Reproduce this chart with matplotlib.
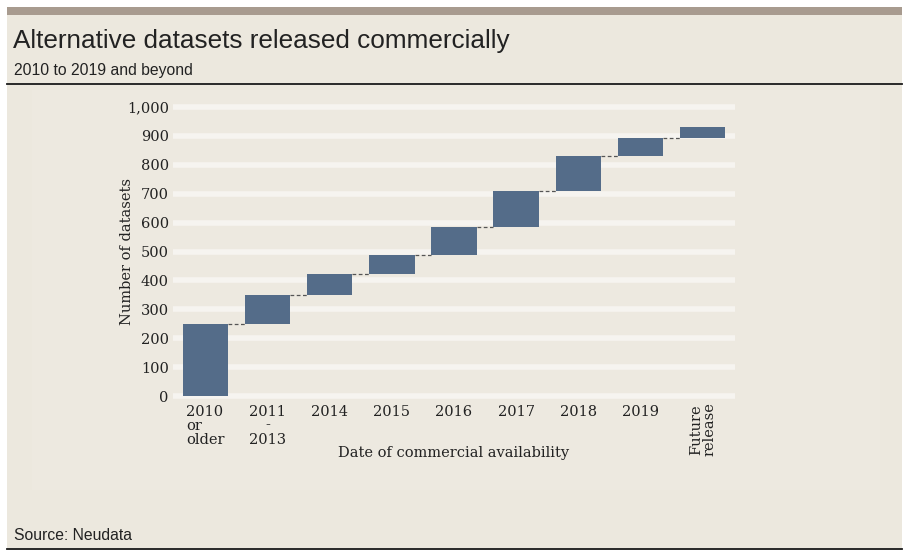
import matplotlib
matplotlib.use("Agg")
import matplotlib.pyplot as plt
from matplotlib.patches import Rectangle
from matplotlib.lines import Line2D

# data (cumulative waterfall)
categories = ["2010\nor\nolder", "2011\n-\n2013", "2014", "2015", "2016",
              "2017", "2018", "2019", "Future\nrelease"]
added = [250, 100, 72, 65, 97, 125, 121, 63, 37]

BG = "#ECE8DE"
BAR = "#546C89"
GRID = "#F6F4F0"
SANS = "Liberation Sans"
SERIF = "DejaVu Serif"

fig = plt.figure(figsize=(9.07, 5.56), dpi=100)
fig.patch.set_facecolor("white")

W, H = 907, 556
def fx(px):
    return px / W
def fy(py):
    return 1 - py / H

# beige card + top band + rules
fig.patches.append(Rectangle((fx(7), fy(550)), fx(895), 543 / H,
                             transform=fig.transFigure, facecolor=BG,
                             edgecolor="none", zorder=-3))
fig.patches.append(Rectangle((fx(32), fy(490)), fx(848), 400 / H,
                             transform=fig.transFigure, facecolor="#EDE9E0",
                             edgecolor="none", zorder=-2))
fig.patches.append(Rectangle((fx(7), fy(15)), fx(895), 8 / H,
                             transform=fig.transFigure, facecolor="#A89B8F",
                             edgecolor="none", zorder=-1))
fig.lines.append(Line2D([fx(7), fx(902)], [fy(83.5), fy(83.5)],
                        transform=fig.transFigure, color="#1a1a1a", lw=1.3))
fig.lines.append(Line2D([fx(7), fx(902)], [fy(549), fy(549)],
                        transform=fig.transFigure, color="#1a1a1a", lw=1.3))

fig.text(fx(13), fy(41), "Alternative datasets released commercially",
         fontsize=18.8, family=SANS, color="#222222",
         va="center", ha="left")
fig.text(fx(14), fy(71), "2010 to 2019 and beyond", fontsize=11.3,
         family=SANS, color="#222222", va="center")
fig.text(fx(14), fy(535), "Source: Neudata", fontsize=11.3,
         family=SANS, color="#222222", va="center")

ax = fig.add_axes([fx(173), fy(399), 562 / W, 295 / H])
ax.set_facecolor("none")

x = list(range(len(categories)))
bottoms = []
total = 0
for a in added:
    bottoms.append(total)
    total += a
tops = [b + a for b, a in zip(bottoms, added)]

ax.bar(x, added, bottom=bottoms, width=0.73, color=BAR, zorder=3)
for i in range(len(x) - 1):
    ax.plot([x[i] + 0.365, x[i + 1] - 0.365], [tops[i], tops[i]],
            color="#555555", lw=0.9, ls=(0, (3, 2)), zorder=2)

ax.set_xlim(-0.52, len(x) - 1 + 0.52)
ax.set_ylim(-10, 1010)
yt = list(range(0, 1001, 100))
ax.set_yticks(yt)
ax.set_yticklabels([f"{v:,}" for v in yt], family=SERIF,
                   fontsize=10.5, color="#222222")
for v in yt:
    ax.axhline(v, color=GRID, lw=4, solid_capstyle="round", zorder=1)
ax.tick_params(axis="y", length=0, pad=3)
ax.tick_params(axis="x", length=0, pad=4)
for s in ax.spines.values():
    s.set_visible(False)

ax.set_xticks(x)
labels = []
for c in categories:
    labels.append("" if c.startswith("Future") else c)
ax.set_xticklabels(labels, family=SERIF, fontsize=10.5,
                   color="#222222", va="top", linespacing=1.0)
for t, c in zip(ax.get_xticklabels(), categories):
    if c.startswith("2010"):
        t.set_multialignment("left")
    else:
        t.set_multialignment("center")
ax.text(x[-1], -22, categories[-1], rotation=90, ha="center", va="top",
        family=SERIF, fontsize=10.5, color="#222222",
        linespacing=0.9, multialignment="center")

ax.set_xlabel("Date of commercial availability", family=SERIF,
              fontsize=10.5, color="#222222")
ax.set_ylabel("Number of datasets", family=SERIF, fontsize=10.5,
              color="#222222")
ax.xaxis.set_label_coords(0.5, -0.16)
ax.yaxis.set_label_coords(-0.07, 0.5)

fig.savefig("out.png", dpi=100, facecolor="white")
